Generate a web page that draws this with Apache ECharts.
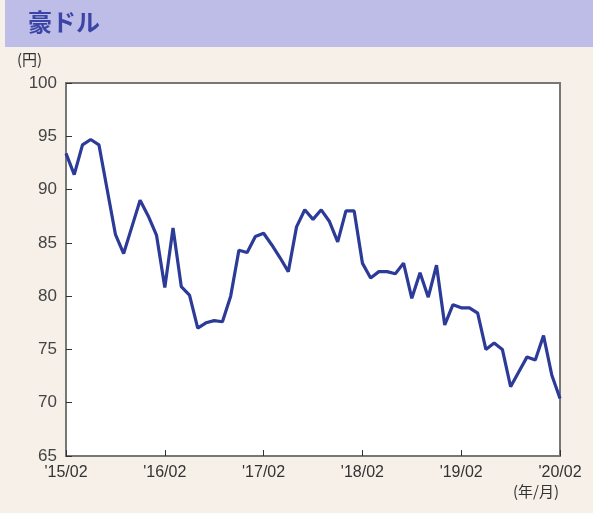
<!DOCTYPE html>
<html>
<head>
<meta charset="utf-8">
<script src="https://cdn.jsdelivr.net/npm/echarts@6/dist/echarts.min.js"></script>
<style>
  html, body { margin: 0; padding: 0; background: #f6f0e8; }
  #chart { width: 593px; height: 513px; }
</style>
</head>
<body>
<div id="chart"></div>
<script>
  // 月次 '15/02 〜 '20/02
  var years = ['15', '16', '17', '18', '19', '20'];
  var months = ['01', '02', '03', '04', '05', '06', '07', '08', '09', '10', '11', '12'];
  var categories = [];
  for (var y = 0; y < years.length; y++) {
    for (var m = 0; m < 12; m++) {
      if (y === 0 && m < 1) continue;
      if (y === years.length - 1 && m > 1) break;
      categories.push("'" + years[y] + '/' + months[m]);
    }
  }

  // 豪ドル/円
  var audJpy = [
    93.4, 91.4, 94.2, 94.7, 94.2, 90.0, 85.8, 84.0, 86.5, 89.0, 87.5, 85.7,
    80.8, 86.4, 80.9, 80.1, 77.0, 77.5, 77.7, 77.6, 80.0, 84.3, 84.1, 85.6,
    85.9, 84.8, 83.6, 82.3, 86.5, 88.1, 87.2, 88.1, 87.0, 85.1, 88.0, 88.0,
    83.1, 81.7, 82.3, 82.3, 82.1, 83.1, 79.8, 82.2, 79.9, 82.9, 77.3, 79.2,
    78.9, 78.9, 78.4, 75.0, 75.6, 75.0, 71.5, 72.9, 74.3, 74.0, 76.3, 72.6,
    70.4
  ];

  var yTicks = [65, 70, 75, 80, 85, 90, 95, 100];

  var chart = echarts.init(document.getElementById('chart'));
  chart.setOption({
    backgroundColor: '#f6f0e8',
    animation: false,
    graphic: [
      {
        type: 'rect',
        shape: { x: 5, y: 0, width: 588, height: 47 },
        style: { fill: '#bebde8' },
        z: 0
      },
      {
        type: 'text',
        left: 28, top: 10,
        style: {
          text: '豪ドル',
          fill: '#3b45a6',
          font: 'bold 24px "Noto Sans CJK JP"'
        }
      },
      {
        type: 'text',
        left: 17, top: 52,
        style: { text: '(円)', fill: '#333', font: '15px "Noto Sans CJK JP"' }
      },
      {
        type: 'text',
        left: 513, top: 484,
        style: { text: '(年/月)', fill: '#333', font: '15px "Noto Sans CJK JP"' }
      }
    ],
    grid: {
      left: 66, right: 33, top: 83, bottom: 57,
      show: true,
      backgroundColor: '#ffffff',
      borderColor: '#777',
      borderWidth: 2
    },
    xAxis: {
      type: 'category',
      data: categories,
      boundaryGap: false,
      axisLine: { lineStyle: { color: '#777', width: 2 } },
      axisTick: { inside: true, length: 6, interval: 11, lineStyle: { color: '#333' } },
      axisLabel: {
        interval: 11,
        color: '#333',
        fontSize: 16,
        fontFamily: 'Liberation Sans',
        margin: 9
      }
    },
    yAxis: {
      type: 'value',
      min: 65,
      max: 100,
      interval: 5,
      axisLine: { show: true, lineStyle: { color: '#777', width: 2 } },
      axisTick: { show: true, inside: true, length: 6, lineStyle: { color: '#333' } },
      splitLine: { show: false },
      axisLabel: {
        color: '#444',
        fontSize: 17,
        fontFamily: 'Liberation Sans',
        margin: 9,
        formatter: function (v) { return yTicks.indexOf(v) >= 0 ? String(v) : ''; }
      }
    },
    series: [{
      type: 'line',
      data: audJpy,
      symbol: 'none',
      lineStyle: { color: '#2c3a98', width: 3.2 }
    }]
  });
</script>
</body>
</html>
